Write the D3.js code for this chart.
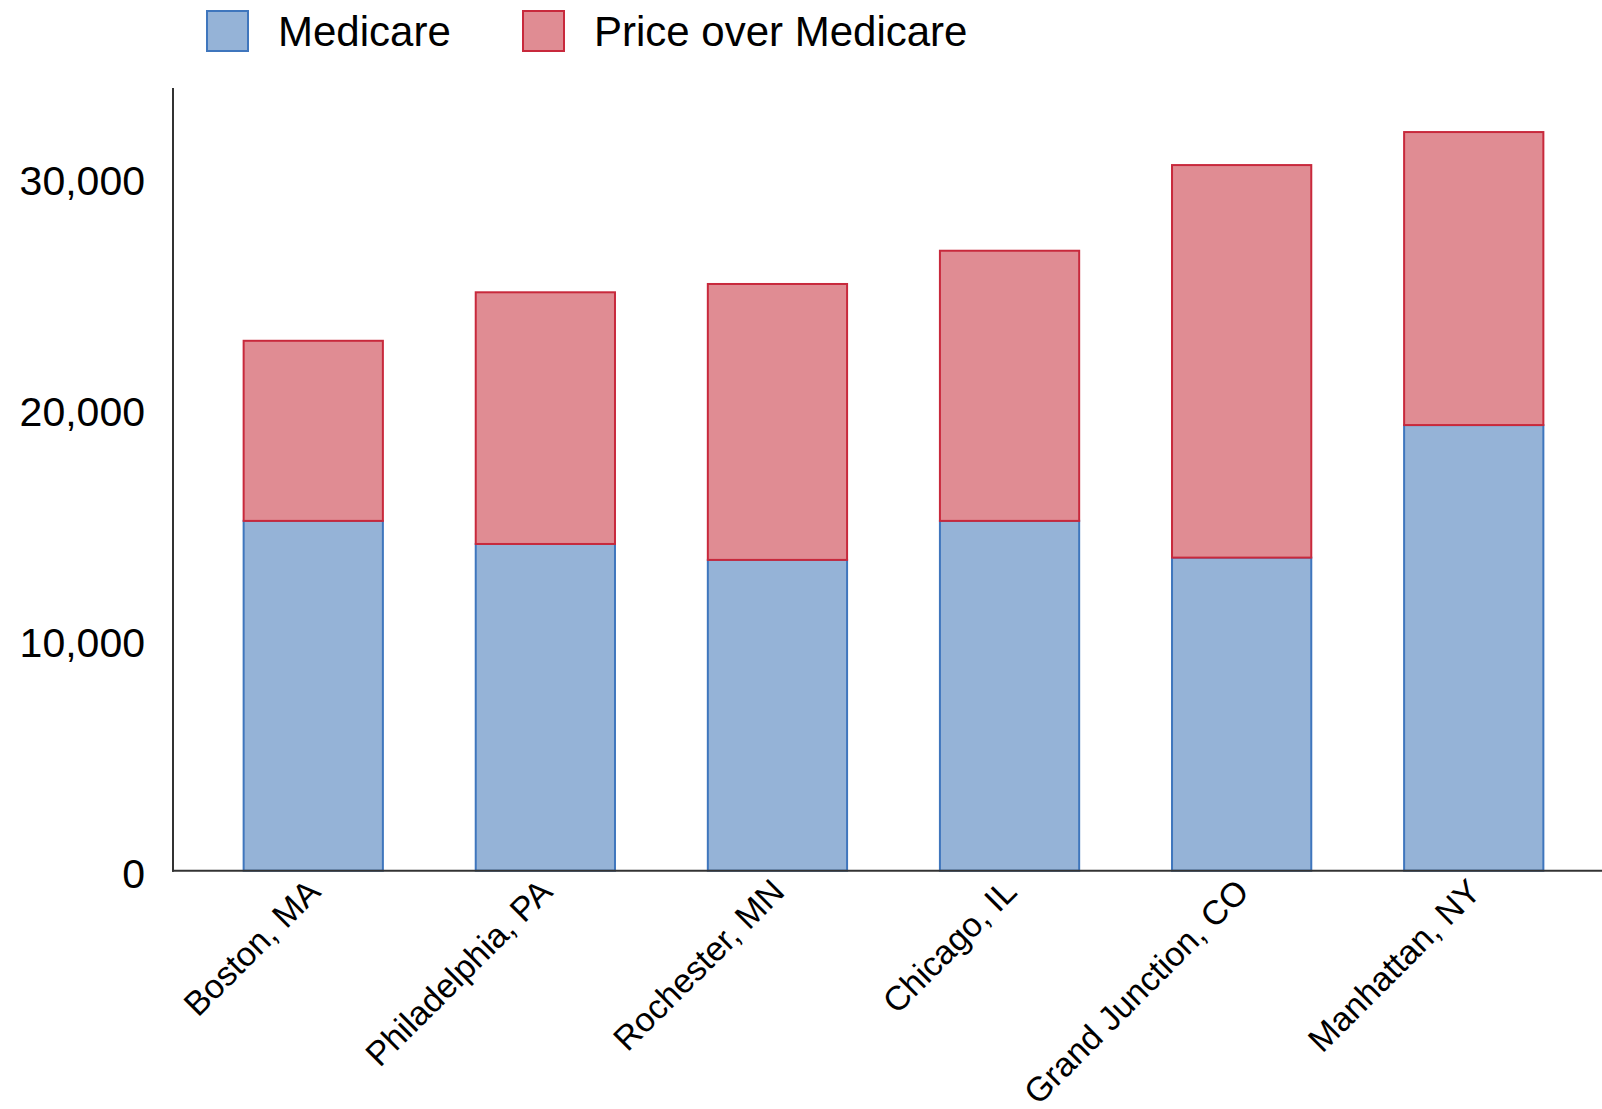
<!DOCTYPE html>
<html>
<head>
<meta charset="utf-8">
<script src="https://cdn.jsdelivr.net/npm/d3@7"></script>
<style>
  body { margin: 0; background: #fff; }
  svg { display: block; font-family: 'Liberation Sans', Arial, sans-serif; }
</style>
</head>
<body>
<svg id="chart" width="1602" height="1109"></svg>
<script>
const cities = ['Boston, MA', 'Philadelphia, PA', 'Rochester, MN', 'Chicago, IL', 'Grand Junction, CO', 'Manhattan, NY'];
const medicare = [15150, 14150, 13460, 15150, 13560, 19300];
const priceOver = [7800, 10900, 11950, 11700, 17000, 12690];
const yTicks = [0, 10000, 20000, 30000];
const seriesNames = ['Medicare', 'Price over Medicare'];

const fills = ['#95b3d7', '#e08c93'];
const strokes = ['#3f76bd', '#c8293c'];

const svg = d3.select('#chart');

const x = d3.scaleBand()
  .domain(cities)
  .range([174, 1613])
  .paddingInner(0.4)
  .paddingOuter(0.3);

const y = d3.scaleLinear()
  .domain([0, 30000])
  .range([870.7, 178]);

const rows = cities.map((c, i) => ({ city: c, Medicare: medicare[i], 'Price over Medicare': priceOver[i] }));
const stacked = d3.stack().keys(seriesNames)(rows);

stacked.forEach((layer, k) => {
  svg.append('g')
    .selectAll('rect')
    .data(layer)
    .join('rect')
    .attr('x', d => x(d.data.city))
    .attr('y', d => y(d[1]))
    .attr('width', x.bandwidth())
    .attr('height', d => y(d[0]) - y(d[1]))
    .attr('fill', fills[k])
    .attr('stroke', strokes[k])
    .attr('stroke-width', 2);
});

// y axis labels, no tick marks
const yAxis = svg.append('g')
  .attr('transform', 'translate(173,0)')
  .call(d3.axisLeft(y).tickValues(yTicks).tickSize(0).tickPadding(28).tickFormat(d3.format(',')));
yAxis.select('.domain').remove();
yAxis.selectAll('text')
  .attr('font-size', 41)
  .attr('font-family', "'Liberation Sans', Arial, sans-serif")
  .attr('fill', '#000')
  .attr('dy', '0.4em');

svg.append('line')
  .attr('x1', 173).attr('x2', 173)
  .attr('y1', 88).attr('y2', y(0) + 1)
  .attr('stroke', '#333').attr('stroke-width', 2);

svg.append('line')
  .attr('x1', 172).attr('x2', 1602)
  .attr('y1', y(0)).attr('y2', y(0))
  .attr('stroke', '#333').attr('stroke-width', 2);

// category labels, rotated
svg.append('g')
  .selectAll('text')
  .data(cities)
  .join('text')
  .attr('transform', d => `translate(${x(d) + x.bandwidth() / 2 + 9},${y(0) + 23}) rotate(-45)`)
  .attr('text-anchor', 'end')
  .attr('font-size', 34)
  .attr('fill', '#000')
  .text(d => d);

// legend
const legendX = [207, 523];
const legend = svg.append('g');
seriesNames.forEach((name, k) => {
  legend.append('rect')
    .attr('x', legendX[k]).attr('y', 11)
    .attr('width', 41).attr('height', 40)
    .attr('fill', fills[k])
    .attr('stroke', strokes[k])
    .attr('stroke-width', 2);
  legend.append('text')
    .attr('x', legendX[k] + 71).attr('y', 46)
    .attr('font-size', 42)
    .attr('fill', '#000')
    .text(name);
});
</script>
</body>
</html>
